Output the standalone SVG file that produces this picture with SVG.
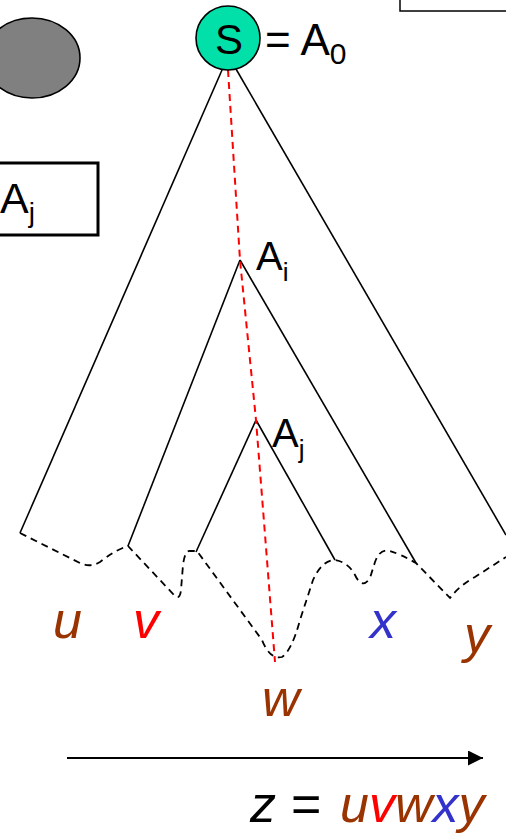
<svg xmlns="http://www.w3.org/2000/svg" width="506" height="833" viewBox="0 0 506 833">
<style>
.t{font-family:"Liberation Sans",Arial,sans-serif;fill:#000}
.it{font-family:"Liberation Sans",Arial,sans-serif;font-style:italic;font-size:52px}
.ln{stroke:#000;stroke-width:1.6;fill:none}
.dash{stroke:#000;stroke-width:1.8;fill:none;stroke-dasharray:7,5}
.red{stroke:#ff0000;stroke-width:2;fill:none;stroke-dasharray:7,5}
</style>
<defs>
<marker id="ah" markerWidth="16" markerHeight="16" refX="15" refY="7.5" orient="auto" markerUnits="userSpaceOnUse">
<path d="M0,0 L15,7.5 L0,15 Z" fill="#000"/>
</marker>
</defs>
<rect width="506" height="833" fill="#fff"/>
<g id="ellipse"><ellipse cx="32" cy="58" rx="48" ry="40" fill="#808080" stroke="#000" stroke-width="1.6"/></g>
<g id="topbox"><rect x="400" y="-10" width="120" height="21" fill="#fff" stroke="#000" stroke-width="1.5"/></g>
<g id="ajbox"><rect x="-10" y="163" width="108" height="72" fill="#fff" stroke="#000" stroke-width="3"/>
<text class="t" x="0" y="213" font-size="43">A<tspan font-size="28" dy="9">j</tspan></text></g>
<g id="connectors">
<line class="ln" x1="222" y1="70" x2="20" y2="533"/>
<line class="ln" x1="236" y1="69" x2="506" y2="535"/>
<line class="ln" x1="240" y1="260" x2="128" y2="546"/>
<line class="ln" x1="240" y1="260" x2="416" y2="563"/>
<line class="ln" x1="256" y1="420" x2="196" y2="552"/>
<line class="ln" x1="256" y1="420" x2="335" y2="560"/>
<path class="red" d="M228,70 L240,260 L256,420 L275,662"/>
<path class="dash" d="M20,533 L80,563 Q90,568 100,562 Q115,550 128,546 L175,596 Q180,600 181,590 L183,565 Q185,550 190,551 L197,551 L262,640 Q270,660 282,657 Q292,650 300,620 L313,580 Q322,560 335,560 Q348,562 355,575 Q362,590 370,578 L375,562 Q380,548 390,551 Q400,554 416,563 L450,598 Q460,585 475,577 L506,557"/>
<line x1="67" y1="758" x2="483" y2="758" stroke="#000" stroke-width="2" marker-end="url(#ah)"/>
</g>
<g id="S"><circle cx="228" cy="38" r="32" fill="#00e0a8" stroke="#000" stroke-width="1.6"/>
<text class="t" x="229" y="54" font-size="42" text-anchor="middle">S</text></g>
<text class="t" x="265" y="55" font-size="44">= A<tspan font-size="30" dy="9">0</tspan></text>
<g id="Ai"><text class="t" x="256" y="270" font-size="40">A<tspan font-size="26" dy="11">i</tspan></text></g>
<g id="Aj"><text class="t" x="272" y="447" font-size="40">A<tspan font-size="26" dy="11">j</tspan></text></g>
<text class="it" x="53" y="638" fill="#993300">u</text>
<text class="it" x="133" y="638" fill="#ff0000">v</text>
<text class="it" x="262" y="716" fill="#993300">w</text>
<text class="it" x="370" y="638" fill="#3333cc">x</text>
<text class="it" x="464" y="652" fill="#993300">y</text>
<text class="it" y="822"><tspan x="250" fill="#000">z</tspan><tspan x="291" fill="#000" font-style="normal">=</tspan><tspan x="340" fill="#993300">u</tspan><tspan fill="#ff0000">v</tspan><tspan fill="#993300">w</tspan><tspan fill="#3333cc">x</tspan><tspan fill="#993300">y</tspan></text>
</svg>
